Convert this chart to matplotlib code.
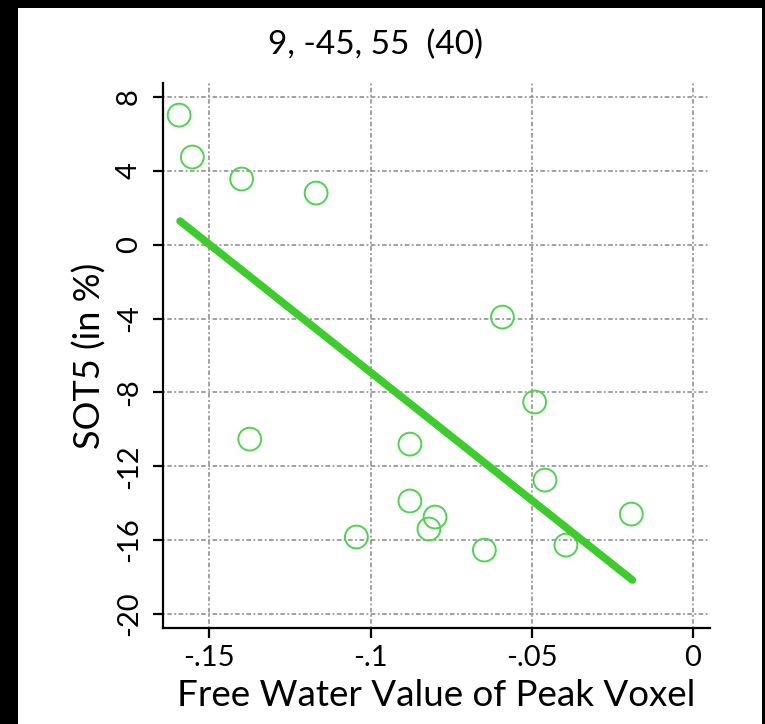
import matplotlib
matplotlib.use("Agg")
import matplotlib.pyplot as plt
from matplotlib.patches import Rectangle

plt.rcParams['font.family'] = ['Lato', 'DejaVu Sans']

title = "9, -45, 55  (40)"
xlabel = "Free Water Value of Peak Voxel"
ylabel = "SOT5 (in %)"

free_water = [-0.1594, -0.1553, -0.1400, -0.1169, -0.0591, -0.0491, -0.1375, -0.0878,
              -0.0459, -0.0878, -0.0800, -0.0191, -0.0819, -0.1044, -0.0647, -0.0394]
sot5 = [7.02, 4.75, 3.56, 2.80, -3.92, -8.52, -10.53, -10.80,
        -12.75, -13.88, -14.75, -14.59, -15.40, -15.83, -16.54, -16.27]

fit_x = [-0.1591, -0.0188]
fit_y = [1.28, -18.16]

xticks = [-0.15, -0.10, -0.05, 0.0]
xticklabels = ["-.15", "-.1", "-.05", "0"]
yticks = [8, 4, 0, -4, -8, -12, -16, -20]
yticklabels = ["8", "4", "0", "-4", "-8", "-12", "-16", "-20"]

fig = plt.figure(figsize=(7.65, 7.24), dpi=100)
fig.patch.set_facecolor('black')
fig.patches.append(Rectangle((18/765, 0), (762-18)/765, 716/724, transform=fig.transFigure,
                             facecolor='white', edgecolor='none', zorder=-10))

ax = fig.add_axes([163/765, 1-628/724, (710-163)/765, (628-83)/724])
ax.set_facecolor('white')

ax.scatter(free_water, sot5, s=270, facecolors='none', edgecolors='#4fd44f', linewidths=1.4, zorder=3)
ax.plot(fit_x, fit_y, color='#3ccc2c', linewidth=5.5, solid_capstyle='round', zorder=4)

ax.set_xlim(-0.1644, 0.0053)
ax.set_ylim(-20.76, 8.76)
ax.set_xticks(xticks)
ax.set_xticklabels(xticklabels, fontsize=21)
ax.set_yticks(yticks)
ax.set_yticklabels(yticklabels, fontsize=21, rotation=90, va='center')

ax.grid(True, color='#888888', linestyle=(0, (1.2, 1.6, 3, 1.6)), linewidth=1.1)
ax.set_axisbelow(True)

for s in ['top', 'right']:
    ax.spines[s].set_visible(False)
for s in ['left', 'bottom']:
    ax.spines[s].set_linewidth(1.6)
ax.tick_params(axis='both', direction='out', length=7.2, width=1.6)
ax.tick_params(axis='y', pad=8)
ax.tick_params(axis='x', pad=5)

ax.set_xlabel(xlabel, fontsize=26.5, labelpad=6)
ax.set_ylabel(ylabel, fontsize=26, labelpad=7)
fig.text(375/765, 1-45/724, title, fontsize=24, ha='center', va='center')

fig.savefig("out.png", dpi=100, facecolor=fig.get_facecolor())
